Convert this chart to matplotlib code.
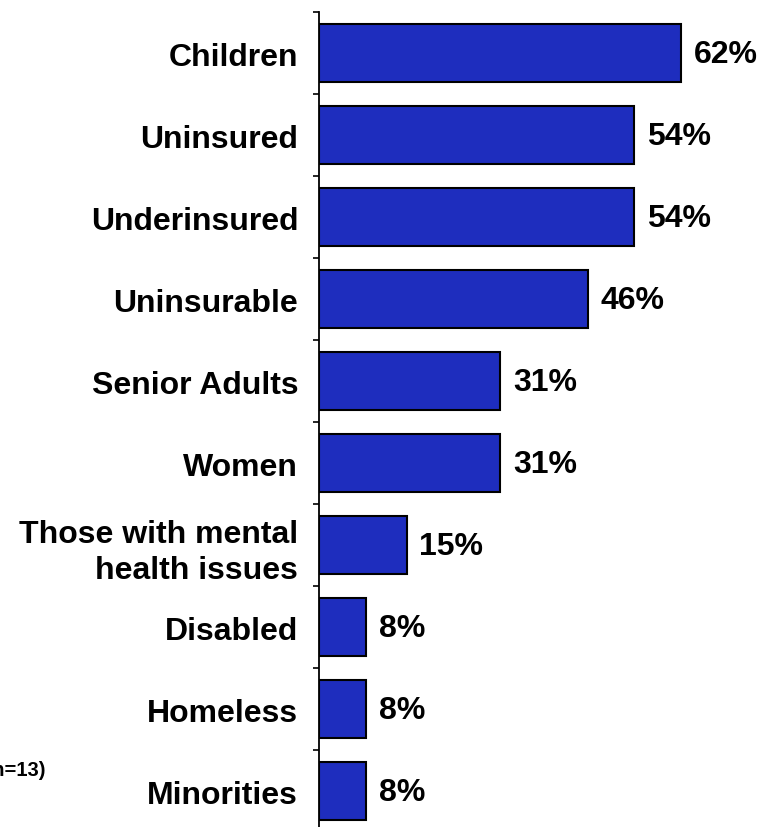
import matplotlib
matplotlib.use("Agg")
import matplotlib.pyplot as plt
import numpy as np

categories = ["Children", "Uninsured", "Underinsured", "Uninsurable", "Senior Adults",
              "Women", "Those with mental\nhealth issues", "Disabled", "Homeless", "Minorities"]
values = [62, 54, 54, 46, 31, 31, 15, 8, 8, 8]

plt.rcParams['font.family'] = ['Liberation Sans', 'DejaVu Sans']
plt.rcParams['font.weight'] = 'bold'

W, H = 777, 827
fig = plt.figure(figsize=(W/100, H/100), dpi=100)
ax_left = 319 / W
ax_right = 777 / W
ax_top = 1 - 12 / H
ax_bottom = 1 - 832 / H
ax = fig.add_axes([ax_left, ax_bottom, ax_right - ax_left, ax_top - ax_bottom])

y = np.arange(len(categories))
ax.barh(y, values, height=0.71, color='#1E2DBE', edgecolor='black', linewidth=1.5, zorder=3)
ax.set_ylim(len(categories) - 0.5, -0.5)
ax.set_xlim(0, (777 - 319) / 5.84)

for yi, v in zip(y, values):
    ax.text(v + 2.2, yi + 0.02, f"{v}%", va='center', ha='left', fontsize=23, fontweight='bold')

ax.set_yticks(y + 0.02)
ax.set_yticklabels(categories, fontsize=23, fontweight='bold', linespacing=1.25)
ax.tick_params(axis='y', which='major', length=0, pad=15)
ax.set_yticks(np.arange(-0.5, len(categories) + 0.5, 1), minor=True)
ax.tick_params(axis='y', which='minor', length=4.5, width=1.2, direction='out')
ax.set_xticks([])
for s in ['top', 'right', 'bottom']:
    ax.spines[s].set_visible(False)
ax.spines['left'].set_linewidth(1.3)

fig.text(45 / W, 1 - 771 / H, "Base: All respondents (n=13)", ha='right', va='center',
         fontsize=14.5, fontweight='bold')

fig.savefig("out.png", dpi=100)
